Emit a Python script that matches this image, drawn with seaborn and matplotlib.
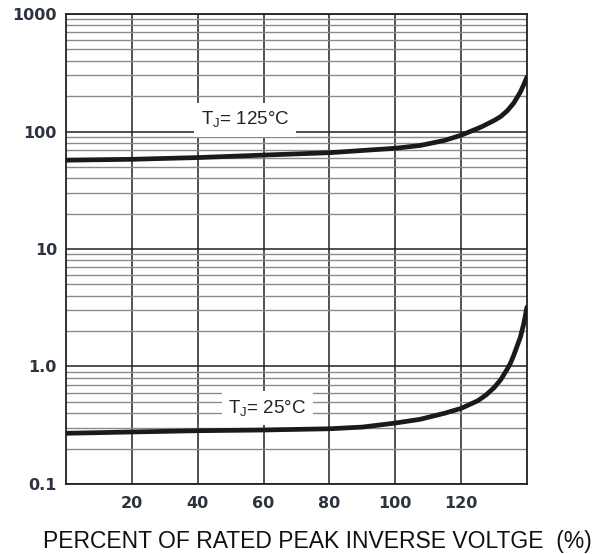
import matplotlib
matplotlib.use("Agg")
import matplotlib.pyplot as plt
import seaborn as sns
import pandas as pd
from matplotlib.ticker import LogLocator, FixedLocator, NullFormatter

# percent of rated peak inverse voltage
x_125 = [0, 20, 40, 60, 80, 100, 107.5, 115, 120, 126, 130, 132, 134, 135, 136, 138, 139, 140]
y_125 = [57, 58, 60, 63, 66, 72, 76, 84, 93, 109, 124, 134, 150, 162, 175, 217, 250, 291]

x_25 = [0, 20, 40, 60, 80, 90, 100, 107.5, 115, 120, 125, 127.5, 130, 132, 134, 135, 136, 138, 139, 140]
y_25 = [0.27, 0.277, 0.284, 0.288, 0.295, 0.305, 0.33, 0.355, 0.40, 0.44, 0.51, 0.57, 0.66, 0.77, 0.95, 1.07, 1.25, 1.78, 2.3, 3.2]

x_ticks = [20, 40, 60, 80, 100, 120]
y_ticks = [0.1, 1, 10, 100, 1000]
y_tick_labels = ["0.1", "1.0", "10", "100", "1000"]

df = pd.concat([
    pd.DataFrame({"pct": x_125, "ir": y_125, "tj": "125"}),
    pd.DataFrame({"pct": x_25, "ir": y_25, "tj": "25"}),
])

sns.set_style("white")
plt.rcParams["font.family"] = ["Liberation Sans", "DejaVu Sans"]
plt.rcParams["mathtext.fontset"] = "custom"
plt.rcParams["mathtext.rm"] = "Liberation Sans"

fig = plt.figure(figsize=(6.11, 5.54), dpi=100)
ax = fig.add_axes([0.108, 0.1264, 0.7545, 0.8483])

sns.lineplot(data=df, x="pct", y="ir", units="tj", estimator=None,
             color="#1a1a1a", linewidth=3.4, ax=ax, zorder=5)

ax.set_yscale("log")
ax.set_xlim(0, 140)
ax.set_ylim(0.1, 1000)

ax.xaxis.set_major_locator(FixedLocator(x_ticks))
ax.set_xticklabels([str(t) for t in x_ticks])
ax.yaxis.set_major_locator(FixedLocator(y_ticks))
ax.set_yticklabels(y_tick_labels)
ax.yaxis.set_minor_locator(LogLocator(base=10, subs=range(2, 10)))
ax.yaxis.set_minor_formatter(NullFormatter())

ax.grid(which="major", axis="both", color="#222222", linewidth=1.1)
ax.grid(which="minor", axis="y", color="#8a8a8a", linewidth=1.0)
ax.set_axisbelow(True)

ax.tick_params(axis="both", which="both", length=0, labelcolor="#2c3440")
ax.tick_params(axis="x", pad=9)
ax.tick_params(axis="y", pad=6.5)
for lab in ax.get_xticklabels() + ax.get_yticklabels():
    lab.set_fontfamily("DejaVu Sans")
    lab.set_fontsize(11.5)
    lab.set_fontweight("semibold")

for s in ax.spines.values():
    s.set_color("#222222")
    s.set_linewidth(1.3)

ax.set_xlabel("")
ax.set_ylabel("")

box = dict(facecolor="white", edgecolor="none", pad=5)
ax.text(54.4, 114, r"T$_\mathregular{J}$= 125°C", fontsize=13.5, ha="center",
        va="baseline", color="#222222", bbox=box, zorder=4)
ax.text(61.2, 0.40, r"T$_\mathregular{J}$= 25°C", fontsize=13.5, ha="center",
        va="baseline", color="#222222", bbox=box, zorder=4)

fig.text(0.52, 0.011, "PERCENT OF RATED PEAK INVERSE VOLTGE  (%)",
         fontsize=16.5, ha="center", va="baseline", color="#111111")

fig.savefig("out.png", dpi=100)
